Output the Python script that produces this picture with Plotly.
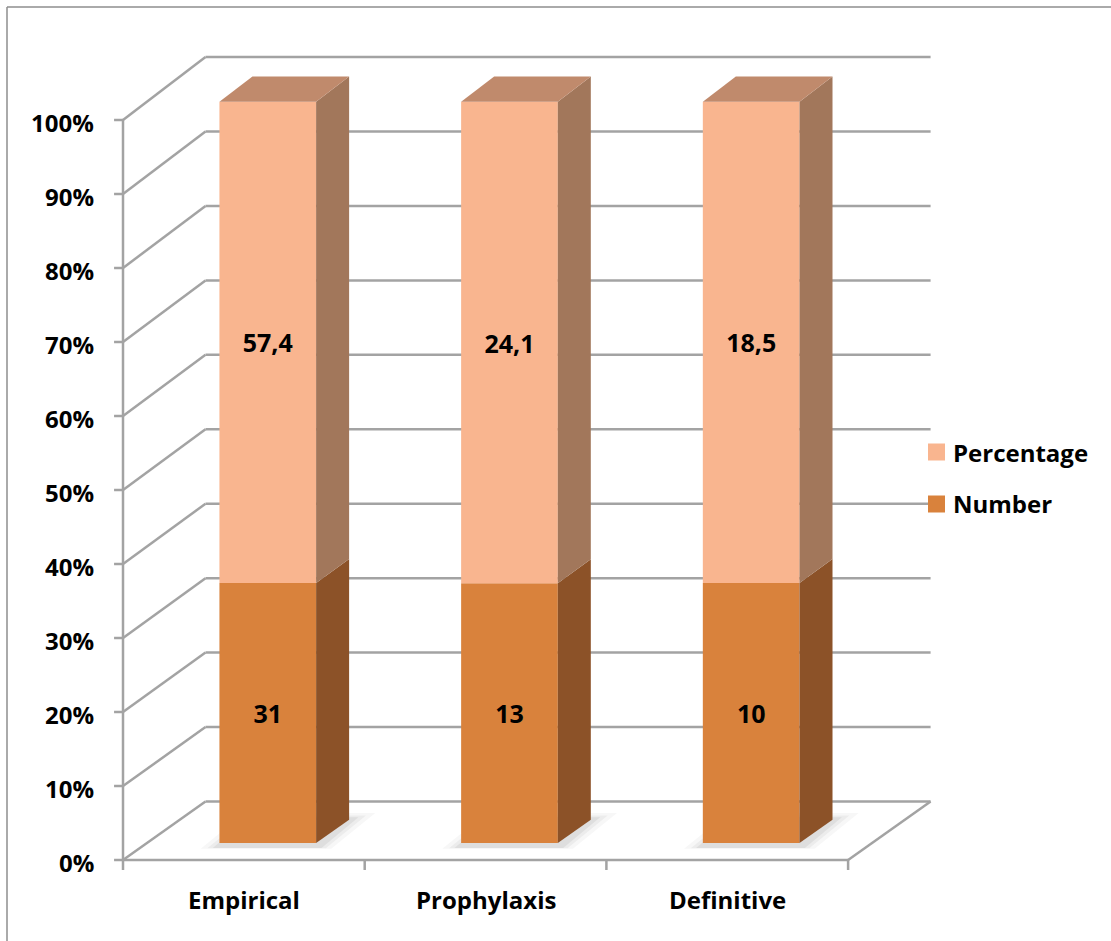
import plotly.graph_objects as go

# ---- data -------------------------------------------------------------
categories = ["Empirical", "Prophylaxis", "Definitive"]
number = [31, 13, 10]
percentage = [57.4, 24.1, 18.5]
number_labels = ["31", "13", "10"]
percentage_labels = ["57,4", "24,1", "18,5"]
y_ticks = [0, 10, 20, 30, 40, 50, 60, 70, 80, 90, 100]
y_tick_labels = [f"{t}%" for t in y_ticks]

# ---- styling ----------------------------------------------------------
FONT = "Open Sans"
GRID = "#A3A3A3"
C_NUM_FRONT, C_NUM_SIDE = "#D9823C", "#8C5228"
C_PCT_FRONT, C_PCT_SIDE, C_PCT_TOP = "#F9B58F", "#A2775B", "#C08A6C"

# oblique projection of the 3-D box onto the 2-D axes
DX, DY, K = 0.3413, 7.905, 0.006   # depth shift in x, in y (%), perspective
Z_FRONT, Z_BACK = 0.29, 0.69        # bar depth inside the box
HALF_W = 0.2                        # half bar width (category units)


def proj(x, z, v):
    return x + DX * z, v * (1 + K * z) + DY * z


# 100 % stacked shares
share_num = [n / (n + p) * 100 for n, p in zip(number, percentage)]
share_pct = [100 - s for s in share_num]

fig = go.Figure()
shapes = []


def line_shape(p0, p1, color=GRID, width=2.5):
    shapes.append(dict(type="line", xref="x", yref="y", layer="below",
                       x0=p0[0], y0=p0[1], x1=p1[0], y1=p1[1],
                       line=dict(color=color, width=width)))


x_left, x_right = -0.5, len(categories) - 0.5
# back wall and left wall gridlines
for t in y_ticks:
    line_shape(proj(x_left, 1, t), proj(x_right, 1, t))
    line_shape(proj(x_left, 0, t), proj(x_left, 1, t))
    # tick marks on the front value axis
    bx, by = proj(x_left, 0, t)
    line_shape((bx - 0.037, by), (bx, by))
# front value axis
line_shape(proj(x_left, 0, 0), proj(x_left, 0, 100))
# floor front and right edges
line_shape(proj(x_left, 0, 0), proj(x_right, 0, 0))
line_shape(proj(x_right, 0, 0), proj(x_right, 1, 0))
# category ticks
for k in range(len(categories) + 1):
    tx, ty = proj(x_left + k, 0, 0)
    line_shape((tx, ty), (tx, ty - 1.35))


def poly_path(pts):
    return "M" + " L".join(f"{px},{py}" for px, py in pts) + " Z"


# soft floor shadow under every bar
for i in range(len(categories)):
    for grow, alpha in [(0.07, 0.04), (0.045, 0.06), (0.025, 0.08)]:
        gx = grow
        gz = grow * 1.6
        pts = [proj(i - HALF_W - gx, Z_FRONT - gz * 0.2, -0.6),
               proj(i + HALF_W + gx, Z_FRONT - gz * 0.2, -0.6),
               proj(i + HALF_W + gx, Z_BACK + gz, 0),
               proj(i - HALF_W - gx, Z_BACK + gz, 0)]
        shapes.append(dict(type="path", xref="x", yref="y", layer="below",
                           path=poly_path(pts), fillcolor=f"rgba(60,60,60,{alpha})",
                           line=dict(width=0)))

# front faces of the stacked bars
xf = [i + DX * Z_FRONT for i in range(len(categories))]
scale_f = 1 + K * Z_FRONT
base_num = [DY * Z_FRONT for _ in categories]
base_pct = [DY * Z_FRONT + s * scale_f for s in share_num]

bar_text_font = dict(family=FONT, size=25, color="black", weight="bold")
fig.add_trace(go.Bar(
    x=xf, y=[s * scale_f for s in share_num], base=base_num, width=0.4,
    marker=dict(color=C_NUM_FRONT, line=dict(width=0)), name="Number",
    text=number_labels, textposition="inside", insidetextanchor="middle",
    textangle=0, constraintext="none", textfont=bar_text_font,
    hoverinfo="skip"))
fig.add_trace(go.Bar(
    x=xf, y=[s * scale_f for s in share_pct], base=base_pct, width=0.4,
    marker=dict(color=C_PCT_FRONT, line=dict(width=0)), name="Percentage",
    text=percentage_labels, textposition="inside", insidetextanchor="middle",
    textangle=0, constraintext="none", textfont=bar_text_font,
    hoverinfo="skip"))


def add_face(pts, color):
    xs = [p[0] for p in pts] + [pts[0][0]]
    ys = [p[1] for p in pts] + [pts[0][1]]
    fig.add_trace(go.Scatter(x=xs, y=ys, mode="lines", fill="toself",
                             fillcolor=color, line=dict(width=0, color=color),
                             hoverinfo="skip", showlegend=False))


# side and top faces
for i in range(len(categories)):
    xr = i + HALF_W
    v0, v1 = 0, share_num[i]
    add_face([proj(xr, Z_FRONT, v0), proj(xr, Z_BACK, v0),
              proj(xr, Z_BACK, v1), proj(xr, Z_FRONT, v1)], C_NUM_SIDE)
    v0, v1 = share_num[i], 100
    add_face([proj(xr, Z_FRONT, v0), proj(xr, Z_BACK, v0),
              proj(xr, Z_BACK, v1), proj(xr, Z_FRONT, v1)], C_PCT_SIDE)
    add_face([proj(i - HALF_W, Z_FRONT, 100), proj(xr, Z_FRONT, 100),
              proj(xr, Z_BACK, 100), proj(i - HALF_W, Z_BACK, 100)], C_PCT_TOP)

annotations = []
label_font = dict(family=FONT, size=24, color="black", weight="bold")
# value axis labels
for t, lab in zip(y_ticks, y_tick_labels):
    ax, ay = proj(x_left, 0, t)
    annotations.append(dict(x=ax, y=ay, xref="x", yref="y", text=lab,
                            showarrow=False, xanchor="right", yanchor="middle",
                            xshift=-27, yshift=-2, font=label_font))
# category labels
for i, cat in enumerate(categories):
    cx, cy = proj(i, 0, 0)
    annotations.append(dict(x=cx, y=cy, xref="x", yref="y", text=cat,
                            showarrow=False, xanchor="center", yanchor="middle",
                            yshift=-39, font=label_font))

# legend
W, H = 1111, 941
legend_items = [("Percentage", C_PCT_FRONT, 452), ("Number", C_NUM_FRONT, 504)]
for name, color, cy in legend_items:
    shapes.append(dict(type="rect", xref="paper", yref="paper",
                       x0=928 / W, x1=945 / W, y0=1 - (cy - 8.5) / H,
                       y1=1 - (cy + 8.5) / H, fillcolor=color,
                       line=dict(width=0)))
    annotations.append(dict(x=951 / W, y=1 - cy / H, xref="paper", yref="paper",
                            text=name, showarrow=False, xanchor="left",
                            yanchor="middle", font=label_font))

# chart frame
shapes.append(dict(type="line", xref="paper", yref="paper", x0=7 / W, x1=1,
                   y0=1 - 7 / H, y1=1 - 7 / H, line=dict(color="#8E8E8E", width=1.5)))
shapes.append(dict(type="line", xref="paper", yref="paper", x0=7 / W, x1=7 / W,
                   y0=0, y1=1 - 7 / H, line=dict(color="#8E8E8E", width=1.5)))

fig.update_layout(
    width=W, height=H, margin=dict(l=0, r=0, t=0, b=0),
    paper_bgcolor="white", plot_bgcolor="white",
    barmode="overlay", showlegend=False,
    xaxis=dict(range=[-1.0089, 3.5877], visible=False, fixedrange=True),
    yaxis=dict(range=[-10.946, 116.216], visible=False, fixedrange=True),
    shapes=shapes, annotations=annotations,
)

fig.write_html("out.html")
